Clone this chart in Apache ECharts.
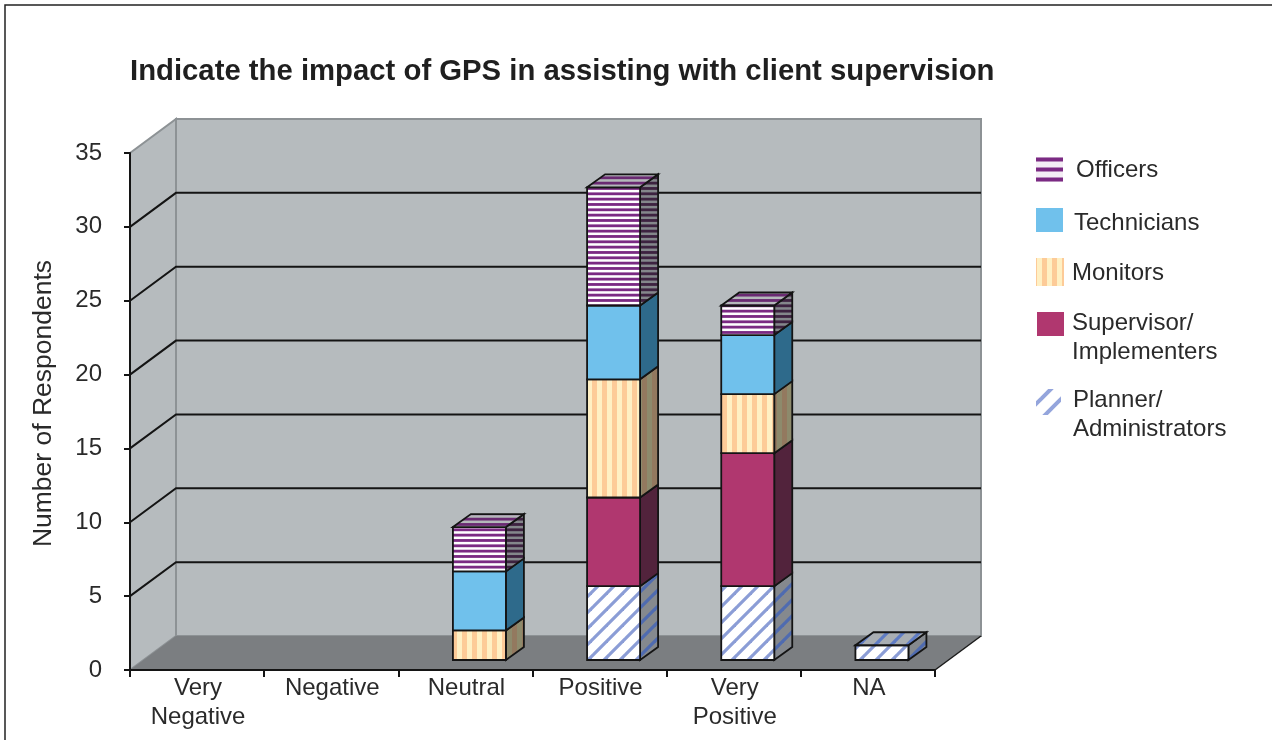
<!DOCTYPE html>
<html>
<head>
<meta charset="utf-8">
<style>
  html, body { margin: 0; padding: 0; background: #fff; }
  #main { width: 1272px; height: 740px; }
</style>
<script src="https://cdn.jsdelivr.net/npm/echarts@6/dist/echarts.min.js"></script>
</head>
<body>
<div id="main"></div>
<script>
const categories = ['Very\nNegative', 'Negative', 'Neutral', 'Positive', 'Very\nPositive', 'NA']
const yTicks = [0, 5, 10, 15, 20, 25, 30, 35]
const planner = [0, 0, 0, 5, 5, 1]
const supervisor = [0, 0, 0, 6, 9, 0]
const monitors = [0, 0, 2, 8, 4, 0]
const technicians = [0, 0, 4, 5, 4, 0]
const officers = [0, 0, 3, 8, 2, 0]

const FONT = '"Liberation Sans", Arial, sans-serif'
const TEXT = '#2a2a2a'

// 3d look, in px
const wall = { dx: 46, dy: -34 }
const bar = { dx: 14, dy: -10, width: 53, sideX: 18, sideY: -13 }

function tile(w, h, draw) {
  const c = document.createElement('canvas')
  c.width = w
  c.height = h
  draw(c.getContext('2d'))
  return { image: c, repeat: 'repeat' }
}
function hStripes(bg, fg, size, count, thick, offset = 0.4) {
  return tile(size, size, (g) => {
    g.fillStyle = bg
    g.fillRect(0, 0, size, size)
    g.fillStyle = fg
    for (let i = 0; i < count; i++) {
      const y = i * size / count + offset
      g.fillRect(0, y, size, thick)
      g.fillRect(0, y - size, size, thick) // wraps round the tile
    }
  })
}
function vStripes(bg, fg) {
  return tile(10, 10, (g) => {
    g.fillStyle = bg
    g.fillRect(0, 0, 10, 10)
    g.fillStyle = fg
    g.fillRect(2, 0, 5, 10)
  })
}
function diagStripes(bg, fg, size) {
  return tile(size, size, (g) => {
    g.fillStyle = bg
    g.fillRect(0, 0, size, size)
    g.strokeStyle = fg
    g.lineWidth = size * 0.2
    for (let i = -1; i <= 1; i++) {
      g.beginPath()
      g.moveTo(i * size - 2, size + 2)
      g.lineTo(i * size + size + 2, -2)
      g.stroke()
    }
  })
}

const looks = {
  planner: {
    front: diagStripes('#ffffff', '#8b9dd6', 16),
    side: diagStripes('#85898e', '#4f6bb0', 16),
    top: diagStripes('#a9aeb3', '#5f7cc4', 16),
  },
  supervisor: { front: '#b0376f', side: '#52233c', top: '#7c2f55' },
  monitors: {
    front: vStripes('#fff0c4', '#fdcb98'),
    side: vStripes('#8d8a6c', '#93795f'),
    top: '#a6947a',
  },
  technicians: { front: '#70c1ec', side: '#2e6a8b', top: '#4d93b8' },
  officers: {
    front: hStripes('#ffffff', '#7b2a83', 16, 3, 2.8),
    side: hStripes('#84878b', '#3d2240', 16, 3, 2.8),
    top: hStripes('#b4b8ba', '#6a2a72', 16, 3, 2.8),
  },
}

const stack = [
  { name: 'Planner/Administrators', values: planner, look: looks.planner },
  { name: 'Supervisor/Implementers', values: supervisor, look: looks.supervisor },
  { name: 'Monitors', values: monitors, look: looks.monitors },
  { name: 'Technicians', values: technicians, look: looks.technicians },
  { name: 'Officers', values: officers, look: looks.officers },
]
const totals = categories.map((c, i) => stack.reduce((s, k) => s + k.values[i], 0))

function poly(points, style) {
  return { type: 'polygon', shape: { points }, style }
}

function renderWalls(params, api) {
  const x0 = api.coord([0, 0])[0] - api.size([1, 0])[0] / 2
  const x1 = x0 + api.size([1, 0])[0] * categories.length
  const y0 = api.coord([0, 0])[1]
  const yTop = api.coord([0, 35])[1]
  const { dx, dy } = wall
  const edge = { stroke: '#8d9295', lineWidth: 2 }
  const children = [
    poly([[x0 + dx, yTop + dy], [x1 + dx, yTop + dy], [x1 + dx, y0 + dy], [x0 + dx, y0 + dy]],
      { fill: '#b6bbbe', ...edge }),
    poly([[x0, yTop], [x0 + dx, yTop + dy], [x0 + dx, y0 + dy], [x0, y0]],
      { fill: '#b6bbbe', ...edge }),
    poly([[x0, y0], [x0 + dx, y0 + dy], [x1 + dx, y0 + dy], [x1, y0]],
      { fill: '#7b7e81' }),
    { type: 'line', shape: { x1: x1, y1: y0, x2: x1 + dx, y2: y0 + dy }, style: { stroke: '#1c1c1c', lineWidth: 1.5 } },
  ]
  yTicks.slice(1, -1).forEach((v) => {
    const y = api.coord([0, v])[1]
    children.push({
      type: 'polyline',
      shape: { points: [[x0, y], [x0 + dx, y + dy], [x1 + dx, y + dy]] },
      style: { fill: 'none', stroke: '#141414', lineWidth: 2 },
    })
  })
  return { type: 'group', children }
}

function stackSeries(item, index) {
  return {
    type: 'custom',
    name: item.name,
    z: 3 + index,
    clip: false,
    silent: true,
    data: item.values.map((v, i) => {
      let base = 0
      for (let k = 0; k < index; k++) base += stack[k].values[i]
      return [i, base, base + v, totals[i]]
    }),
    renderItem(params, api) {
      if (api.value(1) === api.value(2)) return null
      const mid = api.coord([api.value(0), 0])[0] + bar.dx
      const l = mid - bar.width / 2
      const r = mid + bar.width / 2
      const b = api.coord([0, api.value(1)])[1] + bar.dy
      const t = api.coord([0, api.value(2)])[1] + bar.dy
      const line = { stroke: '#141414', lineWidth: 1.8, lineJoin: 'miter' }
      const { sideX, sideY } = bar
      const children = [
        poly([[r, t], [r + sideX, t + sideY], [r + sideX, b + sideY], [r, b]], { fill: item.look.side, ...line }),
        poly([[l, t], [r, t], [r, b], [l, b]], { fill: item.look.front, ...line }),
      ]
      if (api.value(2) === api.value(3)) {
        children.push(poly([[l, t], [l + sideX, t + sideY], [r + sideX, t + sideY], [r, t]], { fill: item.look.top, ...line }))
      }
      return { type: 'group', children }
    },
  }
}

const legendItems = [
  { lines: ['Officers'], fill: hStripes('#f4eef5', '#7b2a83', 10, 1, 4, 7.5), box: [1036, 157, 27, 25], text: [1076, 170] },
  { lines: ['Technicians'], fill: '#70c1ec', box: [1036, 208, 27, 24], text: [1074, 223] },
  { lines: ['Monitors'], fill: vStripes('#fff0c4', '#fdcb98'), box: [1036, 258, 28, 28], text: [1072, 273] },
  { lines: ['Supervisor/', 'Implementers'], fill: '#b0376f', box: [1037, 312, 27, 24], text: [1072, 323] },
  { lines: ['Planner/', 'Administrators'], fill: diagStripes('#ffffff', '#94a5dc', 20), box: [1036, 389, 25, 26], text: [1073, 400] },
]

const graphics = [
  { type: 'rect', silent: true, shape: { x: 5, y: 5, width: 1400, height: 900 }, style: { fill: 'none', stroke: '#222', lineWidth: 1.5 } },
]
legendItems.forEach((it) => {
  graphics.push({
    type: 'rect',
    silent: true,
    shape: { x: it.box[0], y: it.box[1], width: it.box[2], height: it.box[3] },
    style: { fill: it.fill },
  })
  it.lines.forEach((s, i) => {
    graphics.push({
      type: 'text',
      silent: true,
      x: it.text[0],
      y: it.text[1] + i * 29,
      style: { text: s, font: '24px ' + FONT, fill: TEXT, verticalAlign: 'middle' },
    })
  })
})

const chart = echarts.init(document.getElementById('main'), null, { renderer: 'canvas' })
chart.setOption({
  animation: false,
  backgroundColor: '#fff',
  title: {
    text: 'Indicate the impact of GPS in assisting with client supervision',
    left: 130,
    top: 57,
    padding: 0,
    textStyle: { fontFamily: FONT, fontSize: 29.3, fontWeight: 'bold', color: '#1f1f1f' },
  },
  grid: { left: 130, top: 153, width: 805, height: 517 },
  xAxis: {
    type: 'category',
    data: categories,
    z: 8,
    axisLine: { lineStyle: { color: '#141414', width: 2 } },
    axisTick: { show: true, length: 7, lineStyle: { color: '#141414', width: 2 } },
    axisLabel: { fontFamily: FONT, fontSize: 24, color: TEXT, lineHeight: 29, margin: 4, interval: 0, padding: [0, 0, 0, 2] },
  },
  yAxis: {
    type: 'value',
    min: 0,
    max: 35,
    interval: 5,
    z: 8,
    name: 'Number of Respondents',
    nameLocation: 'middle',
    nameGap: 73,
    nameRotate: 90,
    nameTextStyle: { fontFamily: FONT, fontSize: 26.5, color: TEXT, padding: [0, 0, 0, 16] },
    splitLine: { show: false },
    axisLine: { show: true, lineStyle: { color: '#141414', width: 2 } },
    axisTick: { show: true, length: 6, lineStyle: { color: '#141414', width: 2 } },
    axisLabel: { fontFamily: FONT, fontSize: 24, color: TEXT, margin: 28 },
  },
  graphic: graphics,
  series: [
    { type: 'custom', name: 'walls', z: 1, clip: false, silent: true, data: [[0, 0]], renderItem: renderWalls },
    ...stack.map(stackSeries),
  ],
})
</script>
</body>
</html>
